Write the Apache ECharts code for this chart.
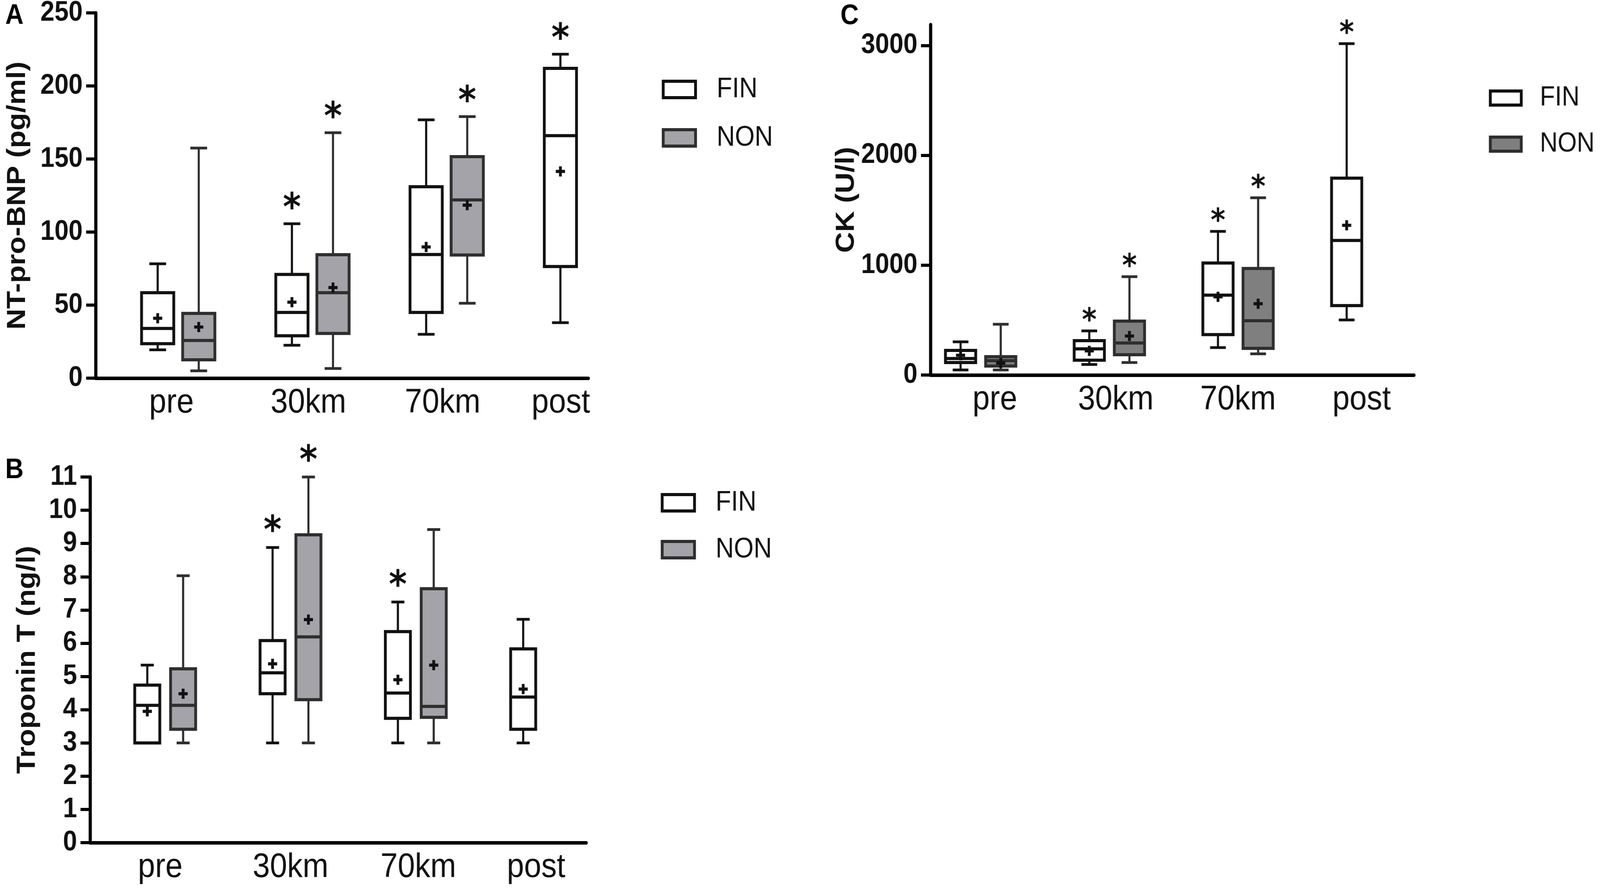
<!DOCTYPE html>
<html>
<head>
<meta charset="utf-8">
<script src="https://cdn.jsdelivr.net/npm/echarts@6.0.0/dist/echarts.min.js"></script>
<style>
  html, body {margin: 0; padding: 0; background: #fff; overflow: hidden;}
  #wrap {position: relative; overflow: hidden;}
  #chart {width: 4550px; height: 2291px; transform-origin: 0 0;}
</style>
</head>
<body>
<div id="wrap"><div id="chart"></div></div>
<script>
  // groups on the x axis
  const groups = ['pre', '30km', '70km', 'post'];

  // box stats are [min, q1, median, q3, max]
  // A: NT-pro-BNP (pg/ml)
  const bnpFin = [[19.4, 23.6, 34, 58.5, 78.3], [22.5, 29, 45, 71, 105.7], [30, 45, 84.6, 131, 176.8], [38, 76.4, 166, 212, 221.7]];
  const bnpFinMean = [41, 52, 89.8, 141.5];
  const bnpFinStar = [0, 1, 0, 1];
  const bnpNon = [[5, 12.6, 25.8, 44.3, 157.5], [6.6, 30.6, 58.5, 84.5, 168], [51.3, 84.3, 122, 151.6, 179]];
  const bnpNonMean = [35, 62, 118.4];
  const bnpNonStar = [0, 1, 1];

  // B: Troponin T (ng/l)
  const tntFin = [[3, 3, 4.13, 4.74, 5.34], [3, 4.48, 5.11, 6.08, 8.88], [3, 3.74, 4.5, 6.35, 7.24], [3, 3.41, 4.38, 5.83, 6.72]];
  const tntFinMean = [3.95, 5.38, 4.9, 4.62];
  const tntFinStar = [0, 1, 1, 0];
  const tntNon = [[3, 3.41, 4.13, 5.23, 8.03], [3, 4.3, 6.19, 9.26, 11], [3, 3.77, 4.1, 7.64, 9.42]];
  const tntNonMean = [4.48, 6.71, 5.34];
  const tntNonStar = [0, 1, 0];

  // C: CK (U/l)
  const ckFin = [[46, 114, 150, 224, 302], [96, 135, 238, 313, 402], [250, 368, 727, 1020, 1308], [501, 632, 1225, 1792, 3017]];
  const ckFinMean = [180, 220, 712, 1363];
  const ckFinStar = [0, 1, 1, 1];
  const ckNon = [[46, 82, 131, 167, 462], [114, 185, 292, 491, 895], [193, 243, 494, 970, 1614]];
  const ckNonMean = [110, 355, 649];
  const ckNonStar = [0, 1, 1];

  // y tick labels
  const bnpTicks = [0, 50, 100, 150, 200, 250];
  const tntTicks = [0, 1, 2, 3, 4, 5, 6, 7, 8, 9, 10, 11];
  const ckTicks = [0, 1000, 2000, 3000];

  // where the group names sit under each panel (x units, one unit per group)
  const bnpLabelPos = [-0.05, 0.97, 1.97, 2.85];
  const tntLabelPos = [-0.04, 1.0, 2.02, 2.96];
  const ckLabelPos = [0.11, 1.05, 2.0, 2.96];

  const FONT = '"Liberation Sans", Arial, sans-serif';
  const FIN_STROKE = '#111111';
  const NON_STROKE = '#2e2e2e';
  const NON_FILL = '#a3a3a9';
  const NON_FILL_C = '#7f7f7f';

  // layout is written for 4550x2291; stretch it onto whatever the viewport is
  const PAGE_W = 4550, PAGE_H = 2291;
  let vw = window.innerWidth || PAGE_W, vh = window.innerHeight || PAGE_H;
  document.getElementById('wrap').style.width = vw + 'px';
  document.getElementById('wrap').style.height = vh + 'px';
  document.getElementById('chart').style.transform = 'scale(' + (vw / PAGE_W) + ',' + (vh / PAGE_H) + ')';

  function makeBoxes (name, axis, stats, means, stars, offset, opt) {
    let data = stats.map(function(s, i) {
      return [i + offset, s[0], s[1], s[2], s[3], s[4], means[i], stars[i]];
    });
    return {
      name: name,
      type: 'custom',
      xAxisIndex: axis,
      yAxisIndex: axis,
      clip: false,
      encode: {x: 0, y: [1, 5]},
      itemStyle: {color: opt.fill, borderColor: opt.stroke},
      data: data,
      renderItem: function(params, api) {
        let x = api.value(0);
        let min = api.value(1), q1 = api.value(2), med = api.value(3), q3 = api.value(4), max = api.value(5);
        let mean = api.value(6), star = api.value(7);
        let cx = api.coord([x, med])[0];
        let yOf = function(v) { return api.coord([x, v])[1]; };
        let bw = api.size([opt.boxW, 0])[0];
        let cw = bw * 0.52;
        let kids = [];
        let lineStyle = function(w) { return {stroke: opt.stroke, lineWidth: w}; };
        if (max > q3) {
          kids.push({type: 'line', shape: {x1: cx, y1: yOf(max), x2: cx, y2: yOf(q3)}, style: lineStyle(6)});
          kids.push({type: 'line', shape: {x1: cx - cw / 2, y1: yOf(max), x2: cx + cw / 2, y2: yOf(max)}, style: lineStyle(7)});
        }
        if (min < q1) {
          kids.push({type: 'line', shape: {x1: cx, y1: yOf(q1), x2: cx, y2: yOf(min)}, style: lineStyle(6)});
          kids.push({type: 'line', shape: {x1: cx - cw / 2, y1: yOf(min), x2: cx + cw / 2, y2: yOf(min)}, style: lineStyle(7)});
        }
        kids.push({
          type: 'rect',
          shape: {x: cx - bw / 2, y: yOf(q3), width: bw, height: yOf(q1) - yOf(q3)},
          style: {fill: opt.fill, stroke: opt.stroke, lineWidth: 8}
        });
        kids.push({type: 'line', shape: {x1: cx - bw / 2, y1: yOf(med), x2: cx + bw / 2, y2: yOf(med)}, style: lineStyle(8)});
        // mean as a small plus
        let my = yOf(mean);
        kids.push({type: 'line', shape: {x1: cx - 13, y1: my, x2: cx + 13, y2: my}, style: {stroke: '#111', lineWidth: 8}});
        kids.push({type: 'line', shape: {x1: cx, y1: my - 13, x2: cx, y2: my + 13}, style: {stroke: '#111', lineWidth: 8}});
        if (star) {
          kids.push({
            type: 'text',
            x: cx,
            y: yOf(max) - opt.starGap + opt.starSize * 0.21,
            style: {
              text: '*', fontSize: opt.starSize, fontWeight: 'bold', fontFamily: '"DejaVu Sans", sans-serif',
              fill: '#111', align: 'center', verticalAlign: 'middle'
            }
          });
        }
        return {type: 'group', children: kids};
      }
    };
  }

  function xAxisFor (grid, min, max, labelPos) {
    return {
      type: 'value', gridIndex: grid, min: min, max: max,
      splitLine: {show: false},
      axisLine: {show: true, onZero: false, lineStyle: {color: '#000', width: 9}},
      axisTick: {show: false},
      axisLabel: {
        customValues: labelPos,
        margin: 20,
        fontSize: 88, fontFamily: FONT, color: '#111',
        formatter: function(v) { return groups[Math.round(v)]; }
      }
    };
  }

  function yAxisFor (grid, max, ticks, name, gap) {
    return {
      type: 'value', gridIndex: grid, min: 0, max: max,
      name: name, nameLocation: 'middle', nameRotate: 90, nameGap: gap,
      nameTextStyle: {fontSize: 74, fontWeight: 'bold', fontFamily: FONT, color: '#111'},
      splitLine: {show: false},
      axisLine: {show: true, onZero: false, lineStyle: {color: '#000', width: 9}},
      axisTick: {show: true, customValues: ticks, length: 27, lineStyle: {color: '#000', width: 8}},
      axisLabel: {
        customValues: ticks, margin: 37,
        fontSize: 72, fontWeight: 'bold', fontFamily: FONT, color: '#111',
        formatter: function(v) { return String(v); }
      }
    };
  }

  function legendAt (pos, w, h, gap, nonFill, fontSize, pad) {
    let lg = {
      orient: 'vertical',
      itemWidth: w, itemHeight: h, itemGap: gap,
      icon: 'rect', selectedMode: false,
      textStyle: {fontSize: fontSize, fontFamily: FONT, color: '#111', padding: [0, 0, 0, pad]},
      data: [
        {name: 'FIN', itemStyle: {color: '#fff', borderColor: FIN_STROKE, borderWidth: 8}},
        {name: 'NON', itemStyle: {color: nonFill, borderColor: NON_STROKE, borderWidth: 8}}
      ]
    };
    return Object.assign(lg, pos);
  }

  let finA = {fill: '#fff', stroke: FIN_STROKE, boxW: 0.24, starGap: 56, starSize: 98};
  let nonA = {fill: NON_FILL, stroke: NON_STROKE, boxW: 0.24, starGap: 56, starSize: 98};
  let finB = {fill: '#fff', stroke: FIN_STROKE, boxW: 0.2, starGap: 58, starSize: 98};
  let nonB = {fill: NON_FILL, stroke: NON_STROKE, boxW: 0.2, starGap: 58, starSize: 98};
  let finC = {fill: '#fff', stroke: FIN_STROKE, boxW: 0.235, starGap: 40, starSize: 80};
  let nonC = {fill: NON_FILL_C, stroke: NON_STROKE, boxW: 0.235, starGap: 40, starSize: 80};

  let option = {
    backgroundColor: '#fff',
    animation: false,
    title: [
      {text: 'A', left: 15, top: 5, padding: 0, textStyle: {fontSize: 72, fontWeight: 'bold', fontFamily: FONT, color: '#000'}},
      {text: 'B', left: 15, top: 1168, padding: 0, textStyle: {fontSize: 72, fontWeight: 'bold', fontFamily: FONT, color: '#000'}},
      {text: 'C', left: 2390, top: 6, padding: 0, textStyle: {fontSize: 72, fontWeight: 'bold', fontFamily: FONT, color: '#000'}}
    ],
    legend: [
      legendAt({left: 1877, top: 188}, 92, 42, 52, NON_FILL, 72, 55),
      legendAt({left: 1874, top: 1246}, 92, 42, 48, NON_FILL, 72, 55),
      legendAt({left: 4229, top: 211}, 88, 36, 48, NON_FILL_C, 70, 48)
    ],
    grid: [
      {left: 272, top: 33, width: 1401, height: 935, outerBoundsMode: 'none'},
      {left: 256, top: 1221, width: 1411, height: 936, outerBoundsMode: 'none'},
      {left: 2646, top: 63, width: 1375, height: 897, outerBoundsMode: 'none'}
    ],
    xAxis: [
      xAxisFor(0, -0.615, 3.055, bnpLabelPos),
      xAxisFor(1, -0.6, 3.36, tntLabelPos),
      xAxisFor(2, -0.39, 3.367, ckLabelPos)
    ],
    yAxis: [
      yAxisFor(0, 250, bnpTicks, 'NT-pro-BNP (pg/ml)', 184),
      yAxisFor(1, 11, tntTicks, 'Troponin T (ng/l)', 140),
      yAxisFor(2, 3190, ckTicks, 'CK (U/l)', 180)
    ],
    series: [
      makeBoxes('FIN', 0, bnpFin, bnpFinMean, bnpFinStar, -0.153, finA),
      makeBoxes('NON', 0, bnpNon, bnpNonMean, bnpNonStar, 0.153, nonA),
      makeBoxes('FIN', 1, tntFin, tntFinMean, tntFinStar, -0.143, finB),
      makeBoxes('NON', 1, tntNon, tntNonMean, tntNonStar, 0.143, nonB),
      makeBoxes('FIN', 2, ckFin, ckFinMean, ckFinStar, -0.156, finC),
      makeBoxes('NON', 2, ckNon, ckNonMean, ckNonStar, 0.156, nonC)
    ]
  };

  let chart = echarts.init(document.getElementById('chart'));
  chart.setOption(option);
</script>
</body>
</html>
